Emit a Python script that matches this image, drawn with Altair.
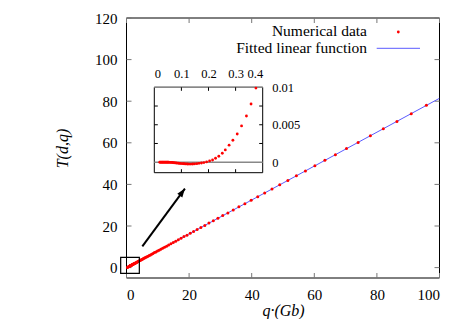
import altair as alt
import pandas as pd

# ---------------- data ----------------
q_main = [95.8, 90.98, 86.40, 82.05, 77.92, 74.00, 70.28, 66.74, 63.38, 60.19,
          57.16, 54.28, 51.55, 48.96, 46.49, 44.15, 41.93, 39.82, 37.82, 35.91,
          34.10, 32.39, 30.76, 29.21, 27.74, 26.34, 25.02, 23.76, 22.56, 21.43,
          20.35, 19.32, 18.35, 17.43, 16.55, 15.72, 14.93, 14.18, 13.46, 12.79,
          12.14, 11.53, 10.95, 10.40, 9.88, 9.38, 8.91, 8.46, 8.03, 7.63,
          7.25, 6.88, 6.54, 6.21, 5.89, 5.60, 5.32, 5.05, 4.79, 4.55,
          4.32, 4.11, 3.90, 3.70, 3.52, 3.34, 3.17, 3.01, 2.86, 2.72,
          2.58, 2.45, 2.33, 2.21, 2.10, 1.99, 1.89, 1.80, 1.71, 1.62,
          1.54, 1.46, 1.39, 1.32, 1.25, 1.19, 1.13, 1.07, 1.02, 0.8,
          0.6, 0.4, 0.2, 0.05]
T_main = [78.0, 74.0, 70.3, 66.8, 63.4, 60.2, 57.2, 54.3, 51.6, 49.0,
          46.5, 44.1, 41.9, 39.8, 37.8, 35.9, 34.1, 32.4, 30.7, 29.2,
          27.7, 26.3, 25.0, 23.7, 22.5, 21.4, 20.3, 19.3, 18.3, 17.4,
          16.5, 15.6, 14.9, 14.1, 13.4, 12.7, 12.1, 11.5, 10.9, 10.3,
          9.8, 9.3, 8.8, 8.4, 8.0, 7.5, 7.2, 6.8, 6.4, 6.1,
          5.8, 5.5, 5.2, 5.0, 4.7, 4.5, 4.2, 4.0, 3.8, 3.6,
          3.4, 3.25, 3.1, 2.9, 2.8, 2.6, 2.5, 2.35, 2.2, 2.1,
          2.0, 1.9, 1.8, 1.7, 1.6, 1.5, 1.45, 1.4, 1.3, 1.2,
          1.15, 1.1, 1.0, 0.98, 0.92, 0.87, 0.82, 0.77, 0.73, 0.55,
          0.39, 0.2, 0.05, 0.0]

fit_q = [0, 100]
fit_T = [-0.1, 81.4]

inset_q = [0.375, 0.357, 0.340, 0.322, 0.306, 0.290, 0.276, 0.262, 0.251, 0.238,
           0.226, 0.215, 0.204, 0.193, 0.183, 0.174, 0.165, 0.157, 0.149, 0.142,
           0.135, 0.128, 0.122, 0.116, 0.110, 0.105, 0.099, 0.094, 0.090, 0.085,
           0.081, 0.077, 0.073, 0.069, 0.066, 0.062, 0.059, 0.056, 0.053, 0.050,
           0.047, 0.044, 0.041, 0.038, 0.035, 0.032, 0.029, 0.026, 0.023, 0.020]
inset_T = [0.00990, 0.00777, 0.00617, 0.00484, 0.00377, 0.00293, 0.00227, 0.00164, 0.00120, 0.00080,
           0.00053, 0.00030, 0.00017, 0.00004, -0.00005, -0.00010, -0.00015, -0.00020, -0.00022, -0.00024,
           -0.00025, -0.00025, -0.00024, -0.00023, -0.00021, -0.00020, -0.00018, -0.00016, -0.00014, -0.00012,
           -0.00010, -0.00008, -0.00007, -0.00005, -0.00004, -0.00003, -0.00002, -0.00002, -0.00001, -0.00001,
           0.0, 0.0, 0.0, 0.0, 0.0, 0.0, 0.0, 0.0, 0.0, 0.0]

x_ticks = [0, 20, 40, 60, 80, 100]
y_ticks = [0, 20, 40, 60, 80, 100, 120]
inset_x_labels = [0, 0.1, 0.2, 0.3, 0.4]
inset_x_ticks = [0.1, 0.2, 0.3]
inset_y_labels = [0, 0.005, 0.01]
inset_y_ticks = [0.0025, 0.005, 0.0075]
inset_gray_lines = [0.0, 0.01]

legend_labels = ["Numerical data", "Fitted linear function"]
x_title = "q·(Gb)"
y_title = "T(d,q)"

box_q = [-1.86, 4.1]
box_T = [-2.74, 4.95]
arrow_q = [5.06, 18.66]
arrow_T = [10.2, 38.0]

# ---------------- layout / style ----------------
W, H = 313, 260
FONT = "Liberation Serif"
RED = "#ff0000"
BLUE = "#5a5aff"
TICK = "#777777"

IX0, IX1 = 27.8, 136.2      # inset frame (pixels in plot area)
IY0, IY1 = 154.7, 69.3


def xs():
    return alt.Scale(domain=[0, 100], nice=False, zero=False)


def ys():
    return alt.Scale(domain=[-5, 120], nice=False, zero=False)


def ixs():
    return alt.Scale(domain=[0, 0.4], range=[IX0, IX1], nice=False, zero=False)


def iys():
    return alt.Scale(domain=[-0.0014, 0.01], range=[IY0, IY1], nice=False, zero=False)


one = pd.DataFrame({"a": [0]})

# ----- main panel -----
frame = alt.Chart(one).mark_rect(fillOpacity=0, stroke="black", strokeWidth=1).encode(
    x=alt.value(0), x2=alt.value(W), y=alt.value(0), y2=alt.value(H))

xt = pd.DataFrame({"q": x_ticks})
yt = pd.DataFrame({"T": y_ticks})
xt_bot = alt.Chart(xt).mark_rule(color=TICK, strokeWidth=1).encode(
    x=alt.X("q:Q", scale=xs(), axis=None), y=alt.value(H), y2=alt.value(H - 5))
xt_top = alt.Chart(xt).mark_rule(color=TICK, strokeWidth=1).encode(
    x=alt.X("q:Q", scale=xs(), axis=None), y=alt.value(0), y2=alt.value(5))
yt_left = alt.Chart(yt).mark_rule(color=TICK, strokeWidth=1).encode(
    y=alt.Y("T:Q", scale=ys(), axis=None), x=alt.value(0), x2=alt.value(5))
yt_right = alt.Chart(yt).mark_rule(color=TICK, strokeWidth=1).encode(
    y=alt.Y("T:Q", scale=ys(), axis=None), x=alt.value(W), x2=alt.value(W - 5))

fit = alt.Chart(pd.DataFrame({"q": fit_q, "T": fit_T})).mark_line(
    color=BLUE, strokeWidth=1, clip=True).encode(
    x=alt.X("q:Q", scale=xs(), axis=None), y=alt.Y("T:Q", scale=ys(), axis=None))

points = alt.Chart(pd.DataFrame({"q": q_main, "T": T_main})).mark_circle(
    color=RED, size=9, opacity=1, clip=True).encode(
    x=alt.X("q:Q", scale=xs(), axis=alt.Axis(
        orient="bottom", values=x_ticks, title=x_title, ticks=False, domain=False,
        grid=False, labelPadding=21.5, labelBaseline="alphabetic", labelFontSize=15,
        labelFont=FONT, labelColor="black",
        titleFont=FONT, titleFontSize=16, titleFontStyle="italic", titleFontWeight="normal",
        titleColor="black", titleX=W / 2, titleY=37.5, titleBaseline="alphabetic",
        titleAlign="center")),
    y=alt.Y("T:Q", scale=ys(), axis=alt.Axis(
        orient="left", values=y_ticks, title=y_title, ticks=False, domain=False,
        grid=False, labelPadding=9.5, labelBaseline="middle", labelFontSize=15,
        labelFont=FONT, labelColor="black",
        titleFont=FONT, titleFontSize=16, titleFontStyle="italic", titleFontWeight="normal",
        titleColor="black", titleX=-64.5, titleY=H / 2, titleAngle=270,
        titleBaseline="middle", titleAlign="center")))

box = alt.Chart(pd.DataFrame({"q0": [box_q[0]], "q1": [box_q[1]],
                              "T0": [box_T[0]], "T1": [box_T[1]]})).mark_rect(
    fillOpacity=0, stroke="black", strokeWidth=1.2).encode(
    x=alt.X("q0:Q", scale=xs(), axis=None), x2="q1:Q",
    y=alt.Y("T0:Q", scale=ys(), axis=None), y2="T1:Q")

arrow_df = pd.DataFrame({"q0": [arrow_q[0]], "q1": [arrow_q[1]],
                         "T0": [arrow_T[0]], "T1": [arrow_T[1]]})
arrow_line = alt.Chart(arrow_df).mark_rule(color="black", strokeWidth=2).encode(
    x=alt.X("q0:Q", scale=xs(), axis=None), x2="q1:Q",
    y=alt.Y("T0:Q", scale=ys(), axis=None), y2="T1:Q")
arrow_head = alt.Chart(arrow_df).mark_point(
    shape="M0,0 L0.36,1 L-0.36,1 Z", filled=True, color="black", opacity=1,
    size=300, angle=36).encode(
    x=alt.X("q1:Q", scale=xs(), axis=None), y=alt.Y("T1:Q", scale=ys(), axis=None))

leg_font = dict(font=FONT, fontSize=15.5, color="black", align="right",
                baseline="alphabetic")
leg_t1 = alt.Chart(one).mark_text(**leg_font).encode(
    x=alt.value(240.5), y=alt.value(18.3), text=alt.value(legend_labels[0]))
leg_t2 = alt.Chart(one).mark_text(**leg_font).encode(
    x=alt.value(240.5), y=alt.value(35.3), text=alt.value(legend_labels[1]))
leg_dot = alt.Chart(one).mark_circle(color=RED, size=8, opacity=1).encode(
    x=alt.value(271.8), y=alt.value(14))
leg_line = alt.Chart(one).mark_rule(color=BLUE, strokeWidth=1).encode(
    x=alt.value(250.2), x2=alt.value(293.5), y=alt.value(30.3))

# ----- inset panel -----
in_frame = alt.Chart(pd.DataFrame({"q0": [0.0], "q1": [0.4],
                                   "T0": [-0.0014], "T1": [0.01]})).mark_rect(
    fill="white", stroke="black", strokeWidth=1).encode(
    x=alt.X("q0:Q", scale=ixs(), axis=None), x2="q1:Q",
    y=alt.Y("T0:Q", scale=iys(), axis=None), y2="T1:Q")

in_gray = alt.Chart(pd.DataFrame({"T": inset_gray_lines})).mark_rule(
    color="#888888", strokeWidth=1.5).encode(
    y=alt.Y("T:Q", scale=iys(), axis=None), x=alt.value(IX0), x2=alt.value(IX1))

ixt = pd.DataFrame({"q": inset_x_ticks})
iyt = pd.DataFrame({"T": inset_y_ticks})
in_xt_bot = alt.Chart(ixt).mark_rule(color="black", strokeWidth=1).encode(
    x=alt.X("q:Q", scale=ixs(), axis=None), y=alt.value(IY0), y2=alt.value(IY0 - 3.5))
in_xt_top = alt.Chart(ixt).mark_rule(color="black", strokeWidth=1).encode(
    x=alt.X("q:Q", scale=ixs(), axis=None), y=alt.value(IY1), y2=alt.value(IY1 + 3.5))
in_yt_left = alt.Chart(iyt).mark_rule(color="black", strokeWidth=1).encode(
    y=alt.Y("T:Q", scale=iys(), axis=None), x=alt.value(IX0), x2=alt.value(IX0 + 3.5))
in_yt_right = alt.Chart(iyt).mark_rule(color="black", strokeWidth=1).encode(
    y=alt.Y("T:Q", scale=iys(), axis=None), x=alt.value(IX1), x2=alt.value(IX1 - 3.5))

in_points = alt.Chart(pd.DataFrame({"q": inset_q, "T": inset_T})).mark_circle(
    color=RED, size=8, opacity=1).encode(
    x=alt.X("q:Q", scale=ixs(), axis=alt.Axis(
        orient="top", offset=-IY1, values=inset_x_labels, format=".1~f",
        ticks=False, domain=False, grid=False, title=None,
        labelPadding=10, labelBaseline="alphabetic", labelFont=FONT,
        labelFontSize=12.5, labelColor="black")),
    y=alt.Y("T:Q", scale=iys(), axis=alt.Axis(
        orient="right", offset=-(W - IX1), values=inset_y_labels, format=".3~f",
        ticks=False, domain=False, grid=False, title=None,
        labelPadding=9, labelBaseline="middle", labelAlign="left", labelFont=FONT,
        labelFontSize=12.5, labelColor="black")))

chart = alt.layer(
    frame, xt_bot, xt_top, yt_left, yt_right, fit, points, box,
    arrow_line, arrow_head, leg_t1, leg_t2, leg_dot, leg_line,
    in_frame, in_gray, in_xt_bot, in_xt_top, in_yt_left, in_yt_right, in_points,
).resolve_scale(
    x="independent", y="independent"
).resolve_axis(
    x="independent", y="independent"
).properties(
    width=W, height=H,
    autosize=alt.AutoSizeParams(type="none"),
    padding={"left": 118.5, "top": 10, "right": 15, "bottom": 41},
).configure_view(strokeWidth=0)

chart.save("out.html", embed_options={"renderer": "svg", "actions": False})
